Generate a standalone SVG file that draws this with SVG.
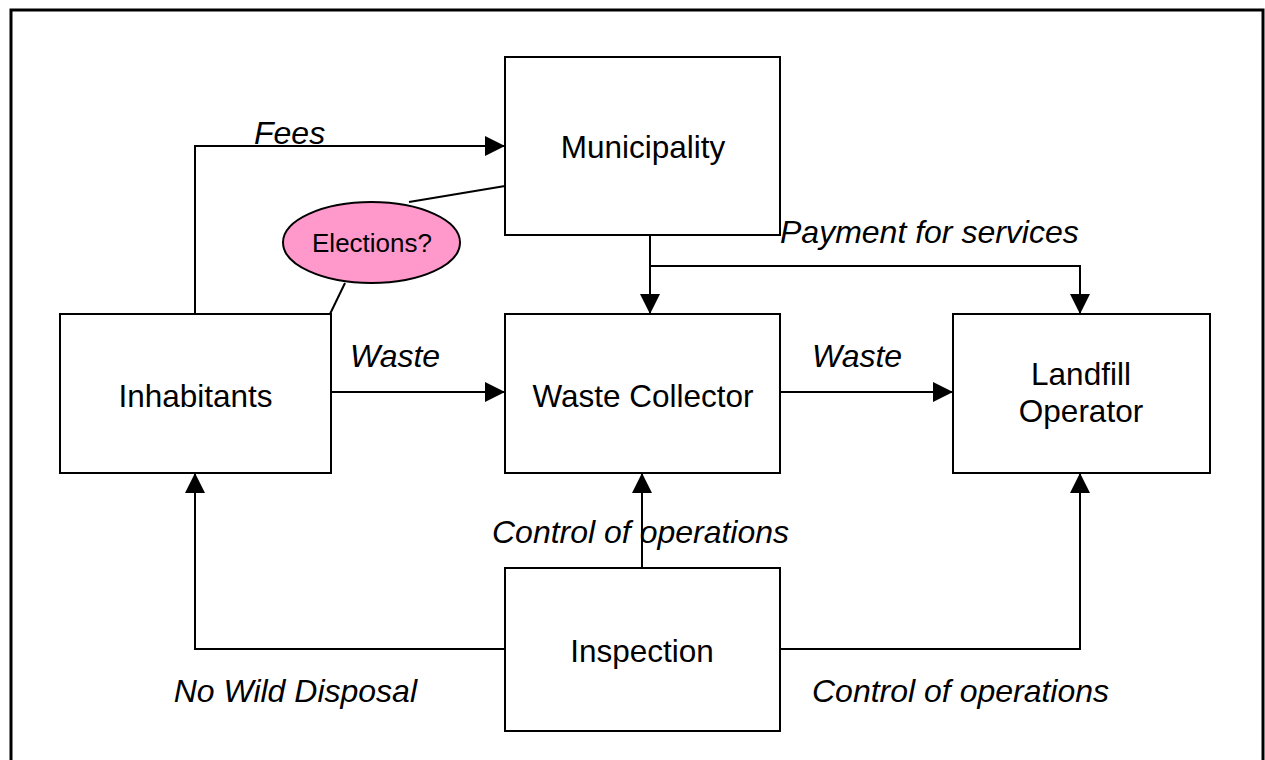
<svg xmlns="http://www.w3.org/2000/svg" width="1265" height="760" viewBox="0 0 1265 760">
<style>
.box{fill:#fff;stroke:#000;stroke-width:2}
.lbl{font-family:"Liberation Sans",Arial,sans-serif;font-size:31.5px;fill:#000;text-anchor:middle}
.it{font-family:"Liberation Sans",Arial,sans-serif;font-size:32px;font-style:italic;fill:#000}
.ln{fill:none;stroke:#000;stroke-width:2}
</style>
<defs>
<marker id="ah" markerUnits="userSpaceOnUse" markerWidth="20" markerHeight="20" refX="20" refY="10" orient="auto">
<path d="M0,0 L20,10 L0,20 z" fill="#000"/>
</marker>
</defs>
<rect width="1265" height="760" fill="#fff"/>
<path d="M11,760 L11,10 L1263,10 L1263,760" fill="none" stroke="#000" stroke-width="3"/>
<g id="connectors">
<polyline class="ln" points="195,314 195,146 505,146" marker-end="url(#ah)"/>
<line class="ln" x1="650" y1="235" x2="650" y2="314" marker-end="url(#ah)"/>
<polyline class="ln" points="650,266 1080,266 1080,314" marker-end="url(#ah)"/>
<line class="ln" x1="331" y1="392" x2="505" y2="392" marker-end="url(#ah)"/>
<line class="ln" x1="780" y1="392" x2="953" y2="392" marker-end="url(#ah)"/>
<line class="ln" x1="642" y1="568" x2="642" y2="473" marker-end="url(#ah)"/>
<polyline class="ln" points="505,649 195,649 195,473" marker-end="url(#ah)"/>
<polyline class="ln" points="780,649 1080,649 1080,473" marker-end="url(#ah)"/>
<line class="ln" x1="409" y1="202" x2="505" y2="186"/>
<line class="ln" x1="345" y1="283" x2="330" y2="314"/>
<text class="it" x="254" y="144">Fees</text>
<text class="it" x="780" y="243">Payment for services</text>
<text class="it" x="350" y="367">Waste</text>
<text class="it" x="812" y="367">Waste</text>
<text class="it" x="492" y="543">Control of operations</text>
<text class="it" x="417" y="702" text-anchor="end">No Wild Disposal</text>
<text class="it" x="812" y="702">Control of operations</text>
</g>
<g id="municipality">
<rect class="box" x="505" y="57" width="275" height="178"/>
<text class="lbl" x="643" y="158">Municipality</text>
</g>
<g id="elections">
<ellipse cx="371.5" cy="242.5" rx="88.5" ry="40.5" fill="#ff99cc" stroke="#000" stroke-width="2"/>
<text class="lbl" x="372" y="252" style="font-size:26px">Elections?</text>
</g>
<g id="inhabitants">
<rect class="box" x="60" y="314" width="271" height="159"/>
<text class="lbl" x="195.5" y="407">Inhabitants</text>
</g>
<g id="waste-collector">
<rect class="box" x="505" y="314" width="275" height="159"/>
<text class="lbl" x="643" y="407">Waste Collector</text>
</g>
<g id="landfill-operator">
<rect class="box" x="953" y="314" width="257" height="159"/>
<text class="lbl" x="1081" y="385">Landfill</text>
<text class="lbl" x="1081" y="422">Operator</text>
</g>
<g id="inspection">
<rect class="box" x="505" y="568" width="275" height="163"/>
<text class="lbl" x="642" y="662">Inspection</text>
</g>
</svg>
